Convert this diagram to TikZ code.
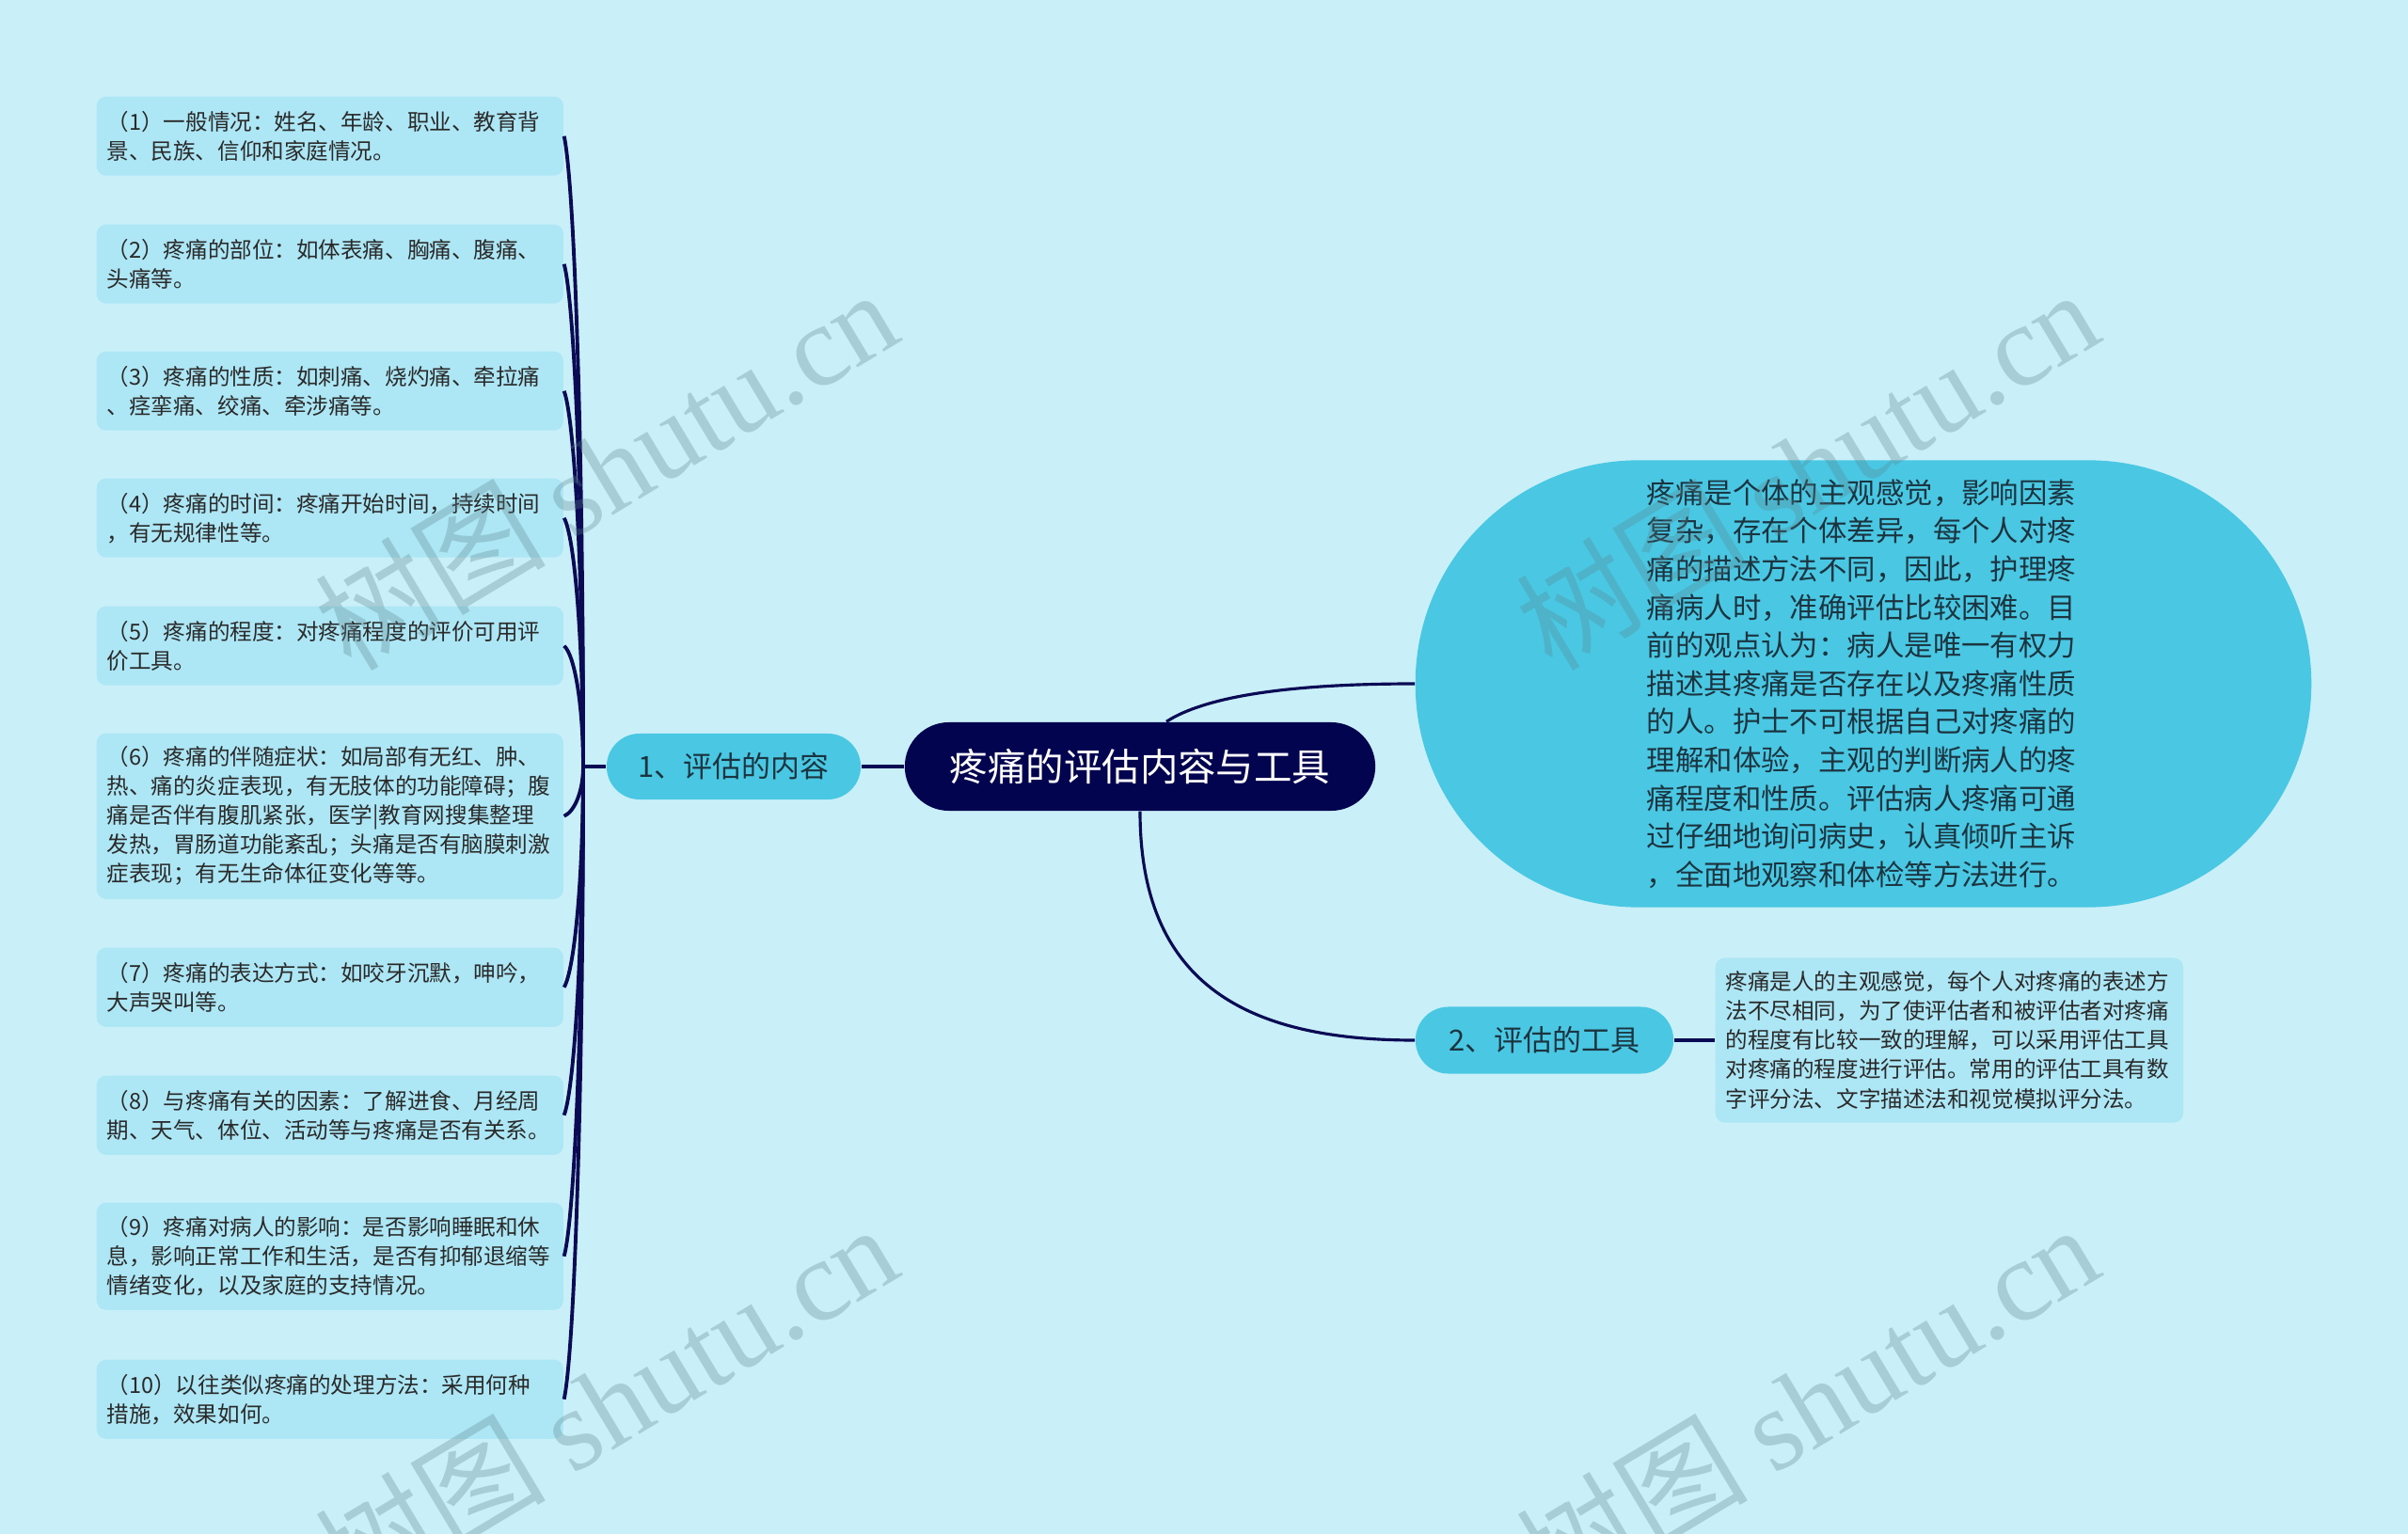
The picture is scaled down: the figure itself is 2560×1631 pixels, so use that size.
\documentclass[tikz,border=0pt]{standalone}
\usepackage{fontspec}
\setmainfont{Noto Sans CJK SC}
\newfontfamily\wmserif{Liberation Serif}
\definecolor{bg}{HTML}{C9F0F8}
\definecolor{leaffill}{HTML}{ADE6F4}
\definecolor{midfill}{HTML}{4AC8E3}
\definecolor{navy}{HTML}{03044F}
\definecolor{linec}{HTML}{0A0A55}
\definecolor{txt}{HTML}{2A2A2A}
\definecolor{txttwo}{HTML}{1B3440}
\definecolor{wmc}{RGB}{90,130,140}
\begin{document}
\begin{tikzpicture}[x=0.01cm,y=-0.01cm,
  leaf/.style={fill=leaffill, rounded corners=0.1cm, text width=4.74cm, inner xsep=0.11cm, inner ysep=0pt,
    align=left, anchor=north west, text=txt, font=\fontsize{6.7}{8.82}\selectfont},
  mid/.style={fill=midfill, text=txttwo, inner sep=0pt, font=\fontsize{8.8}{10}\selectfont},
  conn/.style={draw=linec, line width=1.1pt},
  conntwo/.style={draw=linec, line width=0.9pt},
  wm/.style={text=wmc, text opacity=0.3, inner sep=0pt, font=\fontsize{35}{35}\selectfont}]
\clip (0,0) rectangle (2560,1631);
\fill[bg] (0,0) rectangle (2560,1631);

% central topic
\node[fill=navy, rounded corners=0.47cm, minimum width=5cm, minimum height=0.94cm, inner sep=0pt,
  text=white, font=\fontsize{11.5}{14}\selectfont] (C) at (1212,815) {疼痛的评估内容与工具};

% main branches
\node[mid, rounded corners=0.35cm, minimum width=2.70cm, minimum height=0.70cm] (N1) at (780,815) {1、评估的内容};
\node[mid, rounded corners=0.35cm, minimum width=2.74cm, minimum height=0.71cm] (N2) at (1642,1106) {2、评估的工具};

% big rounded description
\node[fill=midfill, rounded corners=2.37cm, minimum width=9.52cm, minimum height=4.75cm, text width=4.6cm,
  align=left, text=txttwo, font=\fontsize{8.65}{11.55}\selectfont] (E) at (1981,727)
 {疼痛是个体的主观感觉，影响因素\\复杂，存在个体差异，每个人对疼\\痛的描述方法不同，因此，护理疼\\痛病人时，准确评估比较困难。目\\前的观点认为：病人是唯一有权力\\描述其疼痛是否存在以及疼痛性质\\的人。护士不可根据自己对疼痛的\\理解和体验，主观的判断病人的疼\\痛程度和性质。评估病人疼痛可通\\过仔细地询问病史，认真倾听主诉\\，全面地观察和体检等方法进行。};

% tool leaf
\node[leaf, anchor=west, text width=4.75cm, minimum height=1.75cm] (T) at (1823,1106)
 {疼痛是人的主观感觉，每个人对疼痛的表述方\\法不尽相同，为了使评估者和被评估者对疼痛\\的程度有比较一致的理解，可以采用评估工具\\对疼痛的程度进行评估。常用的评估工具有数\\字评分法、文字描述法和视觉模拟评分法。};

% content leaves
\node[leaf, minimum height=0.84cm] (L1) at (102,102) {（1）一般情况：姓名、年龄、职业、教育背\\景、民族、信仰和家庭情况。};
\node[leaf, minimum height=0.84cm] (L2) at (102,238) {（2）疼痛的部位：如体表痛、胸痛、腹痛、\\头痛等。};
\node[leaf, minimum height=0.84cm] (L3) at (102,373) {（3）疼痛的性质：如刺痛、烧灼痛、牵拉痛\\、痉挛痛、绞痛、牵涉痛等。};
\node[leaf, minimum height=0.84cm] (L4) at (102,508) {（4）疼痛的时间：疼痛开始时间，持续时间\\，有无规律性等。};
\node[leaf, minimum height=0.84cm] (L5) at (102,644) {（5）疼痛的程度：对疼痛程度的评价可用评\\价工具。};
\node[leaf, minimum height=1.76cm] (L6) at (102,779) {（6）疼痛的伴随症状：如局部有无红、肿、\\热、痛的炎症表现，有无肢体的功能障碍；腹\\痛是否伴有腹肌紧张，医学|教育网搜集整理\\发热，胃肠道功能紊乱；头痛是否有脑膜刺激\\症表现；有无生命体征变化等等。};
\node[leaf, minimum height=0.84cm] (L7) at (102,1007) {（7）疼痛的表达方式：如咬牙沉默，呻吟，\\大声哭叫等。};
\node[leaf, minimum height=0.84cm] (L8) at (102,1143) {（8）与疼痛有关的因素：了解进食、月经周\\期、天气、体位、活动等与疼痛是否有关系。};
\node[leaf, minimum height=1.14cm] (L9) at (102,1278) {（9）疼痛对病人的影响：是否影响睡眠和休\\息，影响正常工作和生活，是否有抑郁退缩等\\情绪变化，以及家庭的支持情况。};
\node[leaf, minimum height=0.84cm] (L10) at (102,1445) {（10）以往类似疼痛的处理方法：采用何种\\措施，效果如何。};

% connectors
\coordinate (J) at (620,815);
\draw[conntwo] (C.west) -- (N1.east);
\draw[conn] (N1.west) -- (J);
\draw[conn] (J) .. controls (620,479.5) and (611,197.7) .. (L1.east);
\draw[conn] (J) .. controls (620,547.5) and (611,322.8) .. (L2.east);
\draw[conn] (J) .. controls (620,615) and (611,447) .. (L3.east);
\draw[conn] (J) .. controls (620,682.5) and (611,571.2) .. (L4.east);
\draw[conn] (J) .. controls (620,750.5) and (611,696.3) .. (L5.east);
\draw[conn] (J) .. controls (620,841) and (611,862.8) .. (L6.east);
\draw[conn] (J) .. controls (620,932) and (611,1030.3) .. (L7.east);
\draw[conn] (J) .. controls (620,1000) and (611,1155.4) .. (L8.east);
\draw[conn] (J) .. controls (620,1075) and (611,1293.4) .. (L9.east);
\draw[conn] (J) .. controls (620,1151) and (611,1433.2) .. (L10.east);
\draw[conntwo] ([xshift=0.28cm]C.north) .. controls (1290,735) and (1400,727) .. (E.west);
\draw[conntwo] (C.south) .. controls (1212,1050) and (1330,1106) .. (N2.west);
\draw[conntwo] (N2.east) -- (T.west);

% watermarks
\node[wm, rotate=31] (W1) at (644,498) {树图 {\wmserif shutu.cn}};
\node[wm, rotate=31] (W2) at (1921,498) {树图 {\wmserif shutu.cn}};
\node[wm, rotate=31] (W3) at (644,1492) {树图 {\wmserif shutu.cn}};
\node[wm, rotate=31] (W4) at (1921,1492) {树图 {\wmserif shutu.cn}};
\end{tikzpicture}
\end{document}
